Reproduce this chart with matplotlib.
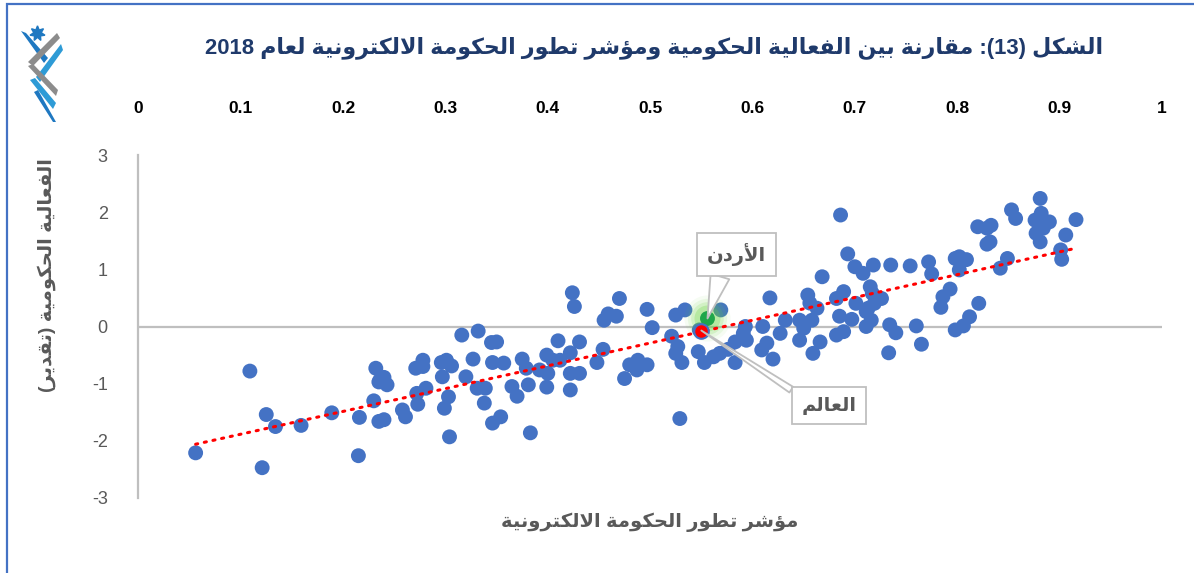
import numpy as np
import matplotlib
matplotlib.use("Agg")
import matplotlib.pyplot as plt
from matplotlib.patches import Rectangle, Polygon

# ---- data ----
egdi = [
    0.109, 0.056, 0.125, 0.134, 0.159, 0.121, 0.189, 0.216, 0.215, 0.232,
    0.236, 0.243, 0.235, 0.240, 0.230, 0.235, 0.240, 0.258, 0.261, 0.273,
    0.272, 0.281, 0.278, 0.271, 0.278,
    0.296, 0.301, 0.306, 0.297, 0.303, 0.299, 0.304, 0.316, 0.320, 0.327,
    0.332, 0.331, 0.339, 0.338, 0.345, 0.350, 0.346, 0.357, 0.346, 0.354,
    0.365, 0.370, 0.375, 0.379, 0.381, 0.383, 0.392, 0.399, 0.400, 0.399,
    0.405, 0.410, 0.412, 0.422, 0.422, 0.431, 0.422, 0.431, 0.424, 0.426,
    0.448, 0.454, 0.455, 0.459, 0.467, 0.470, 0.480, 0.488, 0.487, 0.475,
    0.497, 0.497,
    0.502, 0.525, 0.534, 0.521, 0.527, 0.525, 0.531, 0.529, 0.569, 0.548,
    0.547, 0.553, 0.562, 0.568, 0.576, 0.583, 0.594, 0.583, 0.593, 0.591,
    0.610, 0.617, 0.609, 0.614, 0.620, 0.627, 0.632, 0.646, 0.646, 0.650,
    0.654, 0.656, 0.663, 0.658, 0.659, 0.666, 0.668,
    0.686, 0.693, 0.700, 0.708, 0.718, 0.735, 0.754, 0.772, 0.775, 0.682,
    0.689, 0.701, 0.713, 0.719, 0.726, 0.715, 0.717, 0.685, 0.697, 0.711,
    0.716, 0.711, 0.682, 0.689, 0.734, 0.740, 0.733, 0.760, 0.765, 0.786,
    0.793, 0.784, 0.798, 0.806, 0.812, 0.821, 0.798, 0.802, 0.809, 0.802,
    0.820, 0.833, 0.829, 0.829, 0.832, 0.842, 0.849, 0.853, 0.857, 0.881,
    0.876, 0.882, 0.890, 0.877, 0.881, 0.884, 0.916, 0.906, 0.901, 0.902,
]
effectiveness = [
    -0.78, -2.21, -1.54, -1.75, -1.73, -2.47, -1.51, -1.59, -2.26, -0.73,
    -0.94, -1.02, -0.97, -0.89, -1.30, -1.66, -1.63, -1.46, -1.58, -1.36,
    -1.17, -1.08, -0.59, -0.73, -0.70,
    -0.63, -0.59, -0.69, -0.88, -1.23, -1.43, -1.93, -0.15, -0.88, -0.57,
    -0.08, -1.08, -1.08, -1.34, -0.28, -0.27, -0.63, -0.64, -1.69, -1.58,
    -1.05, -1.22, -0.57, -0.73, -1.02, -1.86, -0.76, -0.50, -0.82, -1.06,
    -0.59, -0.25, -0.59, -0.46, -0.82, -0.82, -1.11, -0.27, 0.59, 0.35,
    -0.63, -0.40, 0.11, 0.22, 0.18, 0.49, -0.67, -0.59, -0.76, -0.91,
    0.30, -0.67,
    -0.02, 0.20, 0.29, -0.17, -0.35, -0.47, -0.63, -1.61, 0.29, -0.06,
    -0.44, -0.63, -0.53, -0.47, -0.40, -0.27, -0.24, -0.63, 0.00, -0.12,
    0.00, 0.50, -0.41, -0.29, -0.57, -0.12, 0.11, -0.24, 0.11, -0.03,
    0.55, 0.41, 0.32, 0.11, -0.47, -0.27, 0.87,
    1.95, 1.27, 1.045, 0.93, 1.075, 1.075, 1.06, 1.13, 0.92, 0.49,
    0.61, 0.405, 0.32, 0.405, 0.49, 0.695, 0.58, 0.18, 0.125, 0.26,
    0.11, 0.00, -0.15, -0.09, 0.03, -0.11, -0.46, 0.01, -0.31, 0.52,
    0.655, 0.335, -0.06, 0.01, 0.17, 0.405, 1.19, 1.22, 1.17, 0.99,
    1.745, 1.77, 1.72, 1.44, 1.48, 1.02, 1.19, 2.04, 1.89, 2.24,
    1.86, 1.98, 1.83, 1.63, 1.48, 1.72, 1.87, 1.60, 1.34, 1.175,
]
jordan = (0.556, 0.14)
world = (0.550, -0.07)

x_ticks = [0, 0.1, 0.2, 0.3, 0.4, 0.5, 0.6, 0.7, 0.8, 0.9, 1]
x_tick_labels = ["0", "0.1", "0.2", "0.3", "0.4", "0.5", "0.6", "0.7", "0.8", "0.9", "1"]
y_ticks = [3, 2, 1, 0, -1, -2, -3]
y_tick_labels = ["3", "2", "1", "0", "-1", "-2", "-3"]

title = "الشكل (13): مقارنة بين الفعالية الحكومية ومؤشر تطور الحكومة الالكترونية لعام 2018"
x_label = "مؤشر تطور الحكومة الالكترونية"
y_label = "الفعالية الحكومية (تقدير)"
jordan_label = "الأردن"
world_label = "العالم"

# ---- minimal Arabic shaping (matplotlib has no complex text layout) ----
FOUR = {"ئ": 0xFE89, "ب": 0xFE8F, "ت": 0xFE95, "ث": 0xFE99, "ج": 0xFE9D,
        "ح": 0xFEA1, "خ": 0xFEA5, "س": 0xFEB1, "ش": 0xFEB5, "ص": 0xFEB9,
        "ض": 0xFEBD, "ط": 0xFEC1, "ظ": 0xFEC5, "ع": 0xFEC9, "غ": 0xFECD,
        "ف": 0xFED1, "ق": 0xFED5, "ك": 0xFED9, "ل": 0xFEDD, "م": 0xFEE1,
        "ن": 0xFEE5, "ه": 0xFEE9, "ي": 0xFEF1}
TWO = {"آ": 0xFE81, "أ": 0xFE83, "ؤ": 0xFE85, "إ": 0xFE87, "ا": 0xFE8D,
       "ة": 0xFE93, "د": 0xFEA9, "ذ": 0xFEAB, "ر": 0xFEAD, "ز": 0xFEAF,
       "و": 0xFEED, "ى": 0xFEEF}
LAM_ALEF = {"آ": 0xFEF5, "أ": 0xFEF7, "إ": 0xFEF9, "ا": 0xFEFB}
MIRROR = {"(": ")", ")": "("}


def shape(text):
    out = []
    i = 0
    while i < len(text):
        c = text[i]
        prev = text[i - 1] if i > 0 else ""
        nxt = text[i + 1] if i + 1 < len(text) else ""
        jp = prev in FOUR
        if c == "ل" and nxt in LAM_ALEF:
            out.append(chr(LAM_ALEF[nxt] + (1 if jp else 0)))
            i += 2
            continue
        if c in FOUR:
            jn = nxt in FOUR or nxt in TWO
            b = FOUR[c]
            out.append(chr(b + (3 if jp and jn else 1 if jp else 2 if jn else 0)))
        elif c in TWO:
            out.append(chr(TWO[c] + (1 if jp else 0)))
        else:
            out.append(c)
        i += 1
    return out


def rtl(text):
    runs = []
    for g in shape(text):
        ltr = g.isascii() and g.isalnum()
        if runs and runs[-1][0] and ltr:
            runs[-1][1].append(g)
        else:
            runs.append([ltr, [g]])
    out = []
    for ltr, gs in reversed(runs):
        if ltr:
            out.extend(gs)
        else:
            out.extend(MIRROR.get(g, g) for g in reversed(gs))
    return "".join(out)


FONT = ["Liberation Sans", "DejaVu Sans"]
GRAY = "#595959"
BLUE = "#4472C4"

W, H = 1194, 573
fig = plt.figure(figsize=(W / 100, H / 100), dpi=100)
ax = fig.add_axes([138.3 / W, 75 / H, (1162 - 138.3) / W, 343 / H])

ax.scatter(egdi, effectiveness, s=115, color=BLUE, edgecolors="none", zorder=3)

# linear trend line over the data range
slope, intercept = np.polyfit(egdi, effectiveness, 1)
tx = np.array([min(egdi), max(egdi)])
ax.plot(tx, slope * tx + intercept, color="#FF0000", lw=2.2,
        linestyle=(0, (0.7, 2.2)), dash_capstyle="round", zorder=5)

# Jordan with soft green glow, world average in red
for size, alpha in [(1100, 0.06), (800, 0.1), (550, 0.16), (350, 0.25)]:
    ax.scatter(*jordan, s=size, color="#66D43A", alpha=alpha, edgecolors="none", zorder=4)
ax.scatter(*jordan, s=115, color="#1FA64A", edgecolors="none", zorder=6)
ax.scatter(*world, s=110, color="#FF0000", edgecolors=BLUE, linewidths=1.5, zorder=7)

box = dict(boxstyle="square,pad=0.5", fc="white", ec="#BFBFBF", lw=1.3)
ax.annotate(rtl(jordan_label), xy=jordan, xytext=(21, 46), textcoords="offset points",
            ha="center", va="center", fontsize=14, fontweight="bold", color=GRAY,
            family=FONT, bbox=box, zorder=8,
            arrowprops=dict(arrowstyle="wedge,tail_width=1.0", fc="white", ec="#BFBFBF",
                            lw=1.3, shrinkA=0, shrinkB=0, relpos=(0.27, 0)))
ax.annotate(rtl(world_label), xy=world, xytext=(92, -54), textcoords="offset points",
            ha="center", va="center", fontsize=14, fontweight="bold", color=GRAY,
            family=FONT, bbox=box, zorder=8,
            arrowprops=dict(arrowstyle="wedge,tail_width=0.35", fc="white", ec="#BFBFBF",
                            lw=1.3, shrinkA=0, shrinkB=0, relpos=(0, 1)))

ax.axhline(0, color="#BFBFBF", lw=1.6, zorder=1)
ax.set_xlim(0, 1)
ax.set_ylim(-3, 3)
for side in ["top", "right", "bottom"]:
    ax.spines[side].set_visible(False)
ax.spines["left"].set_color("#BFBFBF")
ax.spines["left"].set_linewidth(1.6)

ax.xaxis.tick_top()
ax.set_xticks(x_ticks, x_tick_labels, fontweight="bold", family=FONT, fontsize=12.5)
ax.tick_params(axis="x", length=0, pad=28, labelcolor="black")
ax.set_yticks(y_ticks, y_tick_labels, family=FONT, fontsize=13)
ax.tick_params(axis="y", length=0, pad=22, labelcolor=GRAY)

fig.text(1103 / W, 1 - 48 / H, rtl(title), ha="right", va="center", fontsize=15.9,
         fontweight="bold", color="#1F3A6B", family=FONT)
fig.text(650 / W, 1 - 522 / H, rtl(x_label), ha="center", va="center", fontsize=14,
         fontweight="bold", color=GRAY, family=FONT)
fig.text(47 / W, 1 - 275 / H, rtl(y_label), ha="center", va="center", fontsize=14,
         fontweight="bold", color=GRAY, family=FONT, rotation=90)

# frame (left and top edges visible)
fig.add_artist(Rectangle((7 / W, -0.1), 1.2, 1.1 - 4 / H, transform=fig.transFigure,
                         fill=False, ec=BLUE, lw=1.6))

# small logo in the top-left corner (pixel coordinates)
logo = fig.add_axes([15 / W, 1 - 125 / H, 50 / W, 105 / H])
logo.set_xlim(15, 65)
logo.set_ylim(125, 20)
logo.axis("off")
ribbons = [
    ([(21, 31), (26, 33), (48, 58), (44, 63)], "#1F78C1"),
    ([(57, 33), (60, 38), (33, 66), (28, 62)], "#8C8C8C"),
    ([(61, 44), (63, 50), (40, 82), (36, 77)], "#2E9BD6"),
    ([(28, 66), (33, 64), (58, 90), (56, 96)], "#8C8C8C"),
    ([(30, 80), (35, 78), (56, 103), (53, 109)], "#2E9BD6"),
    ([(34, 92), (38, 90), (56, 122), (53, 122)], "#1F78C1"),
]
for pts, col in ribbons:
    logo.add_patch(Polygon(pts, closed=True, fc=col, ec="none"))
logo.plot(37, 33, marker=(7, 1, 0), ms=11, color="#1F78C1")

fig.savefig("out.png", dpi=100)
